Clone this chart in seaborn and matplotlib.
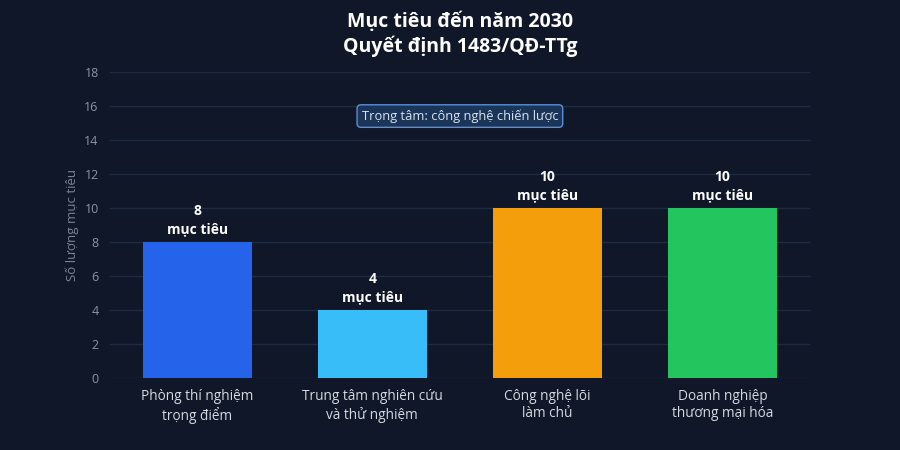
import matplotlib
matplotlib.use("Agg")
import matplotlib.pyplot as plt
import seaborn as sns
import pandas as pd

#---------- data ----------
categories = ["Phòng thí nghiệm\ntrọng điểm", "Trung tâm nghiên cứu\nvà thử nghiệm",
              "Công nghệ lõi\nlàm chủ", "Doanh nghiệp\nthương mại hóa"]
values = [8, 4, 10, 10]
bar_colors = ["#2563eb", "#38bdf8", "#f59e0b", "#22c55e"]
y_ticks = [0, 2, 4, 6, 8, 10, 12, 14, 16, 18]

df = pd.DataFrame({"cat": categories, "val": values})

#---------- style ----------
bg = "#0f1729"
sns.set_theme(style="dark")
plt.rcParams["font.family"] = ["Open Sans", "DejaVu Sans"]

fig, ax = plt.subplots(figsize=(9, 4.5), dpi=100)
fig.patch.set_facecolor(bg)
ax.set_facecolor(bg)
fig.subplots_adjust(left=0.122, right=0.9, top=0.84, bottom=0.16)

sns.barplot(data=df, x="cat", y="val", hue="cat", palette=bar_colors,
            width=0.62, legend=False, ax=ax, saturation=1, zorder=3, linewidth=0)

# value labels on top of bars
for i, v in enumerate(values):
    ax.text(i, v + 0.35, f"{v}\nmục tiêu", ha="center", va="bottom",
            color="white", fontsize=10, fontweight="bold", linespacing=1.35)

ax.set_ylim(0, 18)
ax.set_yticks(y_ticks)
ax.set_xlim(-0.5, 3.5)
ax.grid(axis="y", color="#1f2b40", linewidth=1, zorder=0)
ax.grid(axis="x", visible=False)
for s in ax.spines.values():
    s.set_visible(False)

ax.tick_params(axis="y", colors="#8b95a5", labelsize=9, length=0, pad=8)
ax.tick_params(axis="x", colors="#d5dae2", labelsize=9.8, length=0, pad=8)
ax.set_xlabel("")
ax.set_ylabel("Số lượng mục tiêu", color="#7b8595", fontsize=9.5, labelpad=4)

fig.suptitle("Mục tiêu đến năm 2030\nQuyết định 1483/QĐ-TTg", color="white",
             fontsize=14, fontweight="bold", x=0.511, y=0.975, linespacing=1.25)

ax.text(0.5, 0.856, "Trọng tâm: công nghệ chiến lược", transform=ax.transAxes,
        ha="center", va="center", color="#dbe3ee", fontsize=9.3,
        bbox=dict(boxstyle="round,pad=0.35,rounding_size=0.3", facecolor="#1b3558",
                  edgecolor="#5b8fd6", linewidth=1))

fig.savefig("out.png", dpi=100, facecolor=bg)
